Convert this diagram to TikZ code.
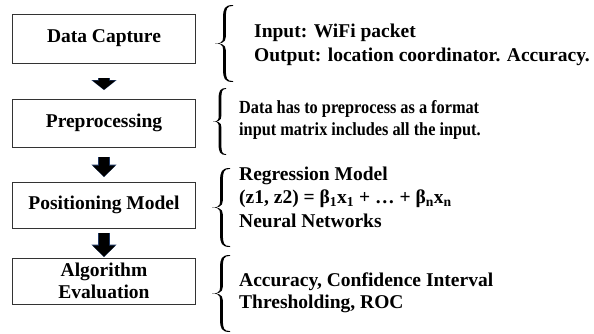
\documentclass[tikz,border=0pt]{standalone}
\usepackage{fontspec}
\setmainfont{Liberation Serif}
\usetikzlibrary{arrows.meta}
\definecolor{arrowedge}{HTML}{1F3864}
\newcommand{\mybrace}[4]{%
 \pgfmathsetmacro{\bxl}{#1}\pgfmathsetmacro{\bxr}{#2}%
 \pgfmathsetmacro{\byt}{#3}\pgfmathsetmacro{\byb}{#4}%
 \pgfmathsetmacro{\bxc}{(\bxl+\bxr)/2+0.5}\pgfmathsetmacro{\bym}{(\byt+\byb)/2}%
 \pgfmathsetmacro{\br}{(\bym-\byt)*0.32}\pgfmathsetmacro{\bt}{1.4}\pgfmathsetmacro{\be}{0.9}%
 \pgfmathsetmacro{\bl}{\bxc-\bt}\pgfmathsetmacro{\bR}{\bxc+\bt}%
 \fill[black] (\bxr,\byt) .. controls (\bxc,\byt) and (\bl,\byt+0.3*\br) .. (\bl,\byt+\br)
   -- (\bl,\bym-\br) .. controls (\bl,\bym-0.3*\br) and (\bxc,\bym) .. (\bxl,\bym)
   .. controls (\bxc,\bym) and (\bl,\bym+0.3*\br) .. (\bl,\bym+\br)
   -- (\bl,\byb-\br) .. controls (\bl,\byb-0.3*\br) and (\bxc,\byb) .. (\bxr,\byb)
   -- (\bxr,\byb-\be) .. controls (\bxc+1.5*\bt,\byb-\be) and (\bR,\byb-0.3*\br) .. (\bR,\byb-\br)
   -- (\bR,\bym+\br) .. controls (\bR,\bym+0.3*\br) and (\bxc+1.5*\bt,\bym) .. (\bxl+\be,\bym)
   .. controls (\bxc+1.5*\bt,\bym) and (\bR,\bym-0.3*\br) .. (\bR,\bym-\br)
   -- (\bR,\byt+\br) .. controls (\bR,\byt+0.3*\br) and (\bxc+1.5*\bt,\byt+\be) .. (\bxr,\byt+\be) -- cycle;}
\tikzset{
  box/.style={draw=black!80, line width=0.8pt, fill=white, minimum width=183pt,
    inner sep=0pt, align=center, font=\fontsize{19.5}{23}\selectfont\bfseries},
  txt/.style={anchor=base west, inner sep=0pt, font=\fontsize{19.5}{23}\selectfont\bfseries},
  smalltxt/.style={anchor=base west, inner sep=0pt, font=\fontsize{18.5}{22}\selectfont\bfseries},
  blkedge/.style={draw=arrowedge, line width=11.5pt, -{Triangle[width=24.5pt,length=#1]}},
  blk/.style={draw=black, line width=10pt, -{Triangle[width=22pt,length=#1]}}
}
\begin{document}
\begin{tikzpicture}[x=1pt,y=-1pt]
\useasboundingbox (0,0) rectangle (594,333);
% boxes
\node[box, minimum height=49pt] (dc) at (104,38.5) {Data Capture};
\node[box, minimum height=48pt] (pp) at (104,123) {Preprocessing};
\node[box, minimum height=46pt] (pm) at (104,205) {Positioning Model};
\node[box, minimum height=46pt] (ae) at (104,281) {Algorithm\\[-1pt]Evaluation};
% arrows
\draw[blkedge=10pt] ([yshift=-14.5pt]dc.south) -- ([yshift=8.5pt]pp.north);
\draw[blk=9pt] ([yshift=-15pt]dc.south) -- ([yshift=9pt]pp.north);
\draw[blkedge=12.5pt] ([yshift=-9.5pt]pp.south) -- ([yshift=4.5pt]pm.north);
\draw[blk=11pt] ([yshift=-10pt]pp.south) -- ([yshift=5pt]pm.north);
\draw[blkedge=12.5pt] ([yshift=-4.5pt]pm.south) -- ([yshift=0.5pt]ae.north);
\draw[blk=11pt] ([yshift=-5pt]pm.south) -- ([yshift=1pt]ae.north);
% braces
\mybrace{215}{233}{5}{82}
\mybrace{213}{226}{88}{155}
\mybrace{212}{230}{168}{247}
\mybrace{212}{230}{255}{332}
% texts
\node[txt] (t1a) at (254,37) {Input: WiFi packet};
\node[txt] (t1b) at (254,61) {Output: location coordinator. Accuracy.};
\node[smalltxt] (t2a) at (239,113) {\scalebox{0.88}[1]{Data has to preprocess as a format}};
\node[smalltxt] (t2b) at (239,135) {\scalebox{0.88}[1]{input matrix includes all the input.}};
\node[txt] (t3a) at (239,180) {Regression Model};
\node[txt] (t3b) at (239,203) {(z1, z2) = β\textsubscript{1}x\textsubscript{1} + … + β\textsubscript{n}x\textsubscript{n}};
\node[txt] (t3c) at (239,227) {Neural Networks};
\node[txt] (t4a) at (239,286) {Accuracy, Confidence Interval};
\node[txt] (t4b) at (239,308) {Thresholding, ROC};
\end{tikzpicture}
\end{document}
